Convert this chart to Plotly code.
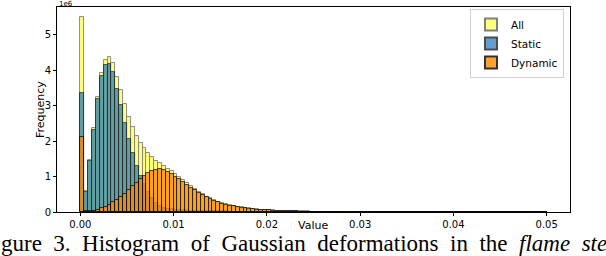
import plotly.graph_objects as go

n_bins = 120
x_max = 0.05
bin_width = x_max / n_bins
bin_centers = [(i + 0.5) * bin_width for i in range(n_bins)]

# values in units of 1e6
all_vals = [
    5.48, 0.58, 1.47, 2.36, 3.23, 3.92, 4.28, 4.37, 4.21, 3.81,
    3.44, 3.04, 2.67, 2.39, 2.14, 1.95, 1.80, 1.67, 1.55, 1.45,
    1.37, 1.30, 1.22, 1.145, 1.065, 0.977, 0.90, 0.815, 0.73, 0.646,
    0.572, 0.499, 0.436, 0.383, 0.331, 0.289, 0.247, 0.215, 0.194, 0.173,
    0.152, 0.131, 0.115, 0.0995, 0.089, 0.0785, 0.068, 0.0595, 0.052, 0.0455,
    0.040, 0.0346, 0.0302, 0.0268, 0.0235, 0.0202, 0.0179, 0.0156, 0.0144, 0.0127,
    0.0115, 0.0103, 0.0092, 0.0082, 0.0073, 0.0065, 0.0059, 0.0053, 0.0048, 0.0043,
    0.0039, 0.0035, 0.0032, 0.0029, 0.0026, 0.0023, 0.0022, 0.0020, 0.0019, 0.0017,
    0.0016, 0.0014, 0.0014, 0.0012, 0.0011, 0.0010, 0.0009, 0.0009, 0.0007, 0.0007,
    0.0007, 0.0005, 0.0005, 0.0005, 0.0005, 0.0003, 0.0003, 0.0003, 0.0003, 0.0003,
    0.0002, 0.0002, 0.0002, 0.0002, 0.0002, 0.0002, 0.0001, 0.0001, 0.0001, 0.0001,
    0.0001, 0.0001, 0.0001, 0.0001, 0.0001, 0.0001, 0.0001, 0.0001, 0.0001, 0.0002,
]

static_vals = [
    3.36, 0.56, 1.44, 2.32, 3.17, 3.82, 4.13, 4.16, 3.93, 3.46,
    3.01, 2.52, 2.06, 1.67, 1.31, 1.02, 0.78, 0.57, 0.40, 0.26,
    0.17, 0.12, 0.09, 0.075, 0.065, 0.057, 0.05, 0.045, 0.04, 0.036,
    0.032, 0.029, 0.026, 0.023, 0.021, 0.019, 0.017, 0.015, 0.014, 0.013,
    0.012, 0.011, 0.010, 0.0095, 0.009, 0.0085, 0.008, 0.0075, 0.007, 0.0065,
    0.006, 0.0056, 0.0052, 0.0048, 0.0045, 0.0042, 0.0039, 0.0036, 0.0034, 0.0032,
    0.0030, 0.0028, 0.0026, 0.0024, 0.0022, 0.0020, 0.0019, 0.0018, 0.0017, 0.0016,
    0.0015, 0.0014, 0.0013, 0.0012, 0.0011, 0.0010, 0.0010, 0.0009, 0.0009, 0.0008,
    0.0008, 0.0007, 0.0007, 0.0006, 0.0006, 0.0005, 0.0005, 0.0005, 0.0004, 0.0004,
    0.0004, 0.0003, 0.0003, 0.0003, 0.0003, 0.0002, 0.0002, 0.0002, 0.0002, 0.0002,
    0.0001, 0.0001, 0.0001, 0.0001, 0.0001, 0.0001, 0.0001, 0.0001, 0.0001, 0.0001,
    0.0001, 0.0001, 0.0001, 0.0001, 0.0001, 0.0001, 0.0001, 0.0001, 0.0001, 0.0002,
]

dynamic_vals = [
    2.12, 0.02, 0.03, 0.04, 0.06, 0.10, 0.15, 0.21, 0.28, 0.35,
    0.43, 0.52, 0.61, 0.72, 0.83, 0.93, 1.02, 1.10, 1.15, 1.19,
    1.20, 1.18, 1.13, 1.07, 1.00, 0.92, 0.85, 0.77, 0.69, 0.61,
    0.54, 0.47, 0.41, 0.36, 0.31, 0.27, 0.23, 0.20, 0.18, 0.16,
    0.14, 0.12, 0.105, 0.09, 0.08, 0.07, 0.06, 0.052, 0.045, 0.039,
    0.034, 0.029, 0.025, 0.022, 0.019, 0.016, 0.014, 0.012, 0.011, 0.0095,
    0.0085, 0.0075, 0.0066, 0.0058, 0.0051, 0.0045, 0.0040, 0.0035, 0.0031, 0.0027,
    0.0024, 0.0021, 0.0019, 0.0017, 0.0015, 0.0013, 0.0012, 0.0011, 0.0010, 0.0009,
    0.0008, 0.0007, 0.0007, 0.0006, 0.0005, 0.0005, 0.0004, 0.0004, 0.0003, 0.0003,
    0.0003, 0.0002, 0.0002, 0.0002, 0.0002, 0.0001, 0.0001, 0.0001, 0.0001, 0.0001,
    0.0001, 0.0001, 0.0001, 0.0001, 0.0001, 0.0001, 0.0, 0.0, 0.0, 0.0,
    0.0, 0.0, 0.0, 0.0, 0.0, 0.0, 0.0, 0.0, 0.0, 0.0,
]

series_names = ["All", "Static", "Dynamic"]
x_ticks = [0.00, 0.01, 0.02, 0.03, 0.04, 0.05]
x_tick_labels = ["0.00", "0.01", "0.02", "0.03", "0.04", "0.05"]
y_ticks = [0, 1, 2, 3, 4, 5]

FONT = "DejaVu Sans"

fig = go.Figure()
styles = [
    (all_vals, "#ffff00", 0.5),
    (static_vals, "#1f77b4", 0.7),
    (dynamic_vals, "#ff8c00", 0.8),
]
for name, (vals, color, op) in zip(series_names, styles):
    fig.add_trace(go.Bar(
        x=bin_centers, y=vals, width=bin_width, name=name,
        marker=dict(color=color, line=dict(color="black", width=0.9)),
        opacity=op,
    ))

L, R, T, B = 57, 36, 7, 44
W, H = 606, 256
pw, ph = W - L - R, H - T - B

def px_x(px):
    return (px - L) / pw

def px_y(py):
    return (H - B - py) / ph

fig.update_layout(
    width=W, height=H,
    margin=dict(l=L, r=R, t=T, b=B),
    barmode="overlay",
    bargap=0,
    plot_bgcolor="white",
    paper_bgcolor="white",
    font=dict(family=FONT, size=10, color="black"),
    showlegend=True,
    legend=dict(
        x=px_x(564), y=px_y(9), xanchor="right", yanchor="top",
        bordercolor="#d0d0d0", borderwidth=1, bgcolor="rgba(255,255,255,0.8)",
        font=dict(family=FONT, size=10.5), traceorder="normal",
        itemsizing="constant", tracegroupgap=0,
    ),
    xaxis=dict(
        range=[-0.0025, 0.0525], tickvals=x_ticks, ticktext=x_tick_labels,
        showline=True, linecolor="black", linewidth=1, mirror=True,
        ticks="outside", ticklen=3, tickcolor="black", showgrid=False,
        zeroline=False, tickfont=dict(size=10),
    ),
    yaxis=dict(
        range=[0, 5.775], tickvals=y_ticks,
        showline=True, linecolor="black", linewidth=1, mirror=True,
        ticks="outside", ticklen=3, tickcolor="black", showgrid=False,
        zeroline=False, tickfont=dict(size=10),
    ),
)

fig.add_annotation(text="Value", xref="paper", yref="paper",
                   x=px_x(313), y=px_y(225), xanchor="center", yanchor="middle",
                   showarrow=False, font=dict(size=11, family=FONT))
fig.add_annotation(text="Frequency", xref="paper", yref="paper",
                   x=px_x(40), y=px_y(110), xanchor="center", yanchor="middle",
                   textangle=-90, showarrow=False, font=dict(size=11, family=FONT))
fig.add_annotation(text="1e6", xref="paper", yref="paper",
                   x=px_x(57), y=px_y(4), xanchor="left", yanchor="middle",
                   showarrow=False, font=dict(size=7, family=FONT))
caption_words = ["gure", "3.", "Histogram", "of", "Gaussian", "deformations", "in", "the", "<i>flame", "ste</i>"]
fig.add_annotation(text="\u00a0 ".join(caption_words),
                   xref="paper", yref="paper",
                   x=px_x(-1), y=px_y(244), xanchor="left", yanchor="middle",
                   showarrow=False,
                   font=dict(size=23, family="Liberation Serif", color="black"))

fig.write_html("out.html", config={"displayModeBar": False},
               post_script="document.body.style.margin='0';")
